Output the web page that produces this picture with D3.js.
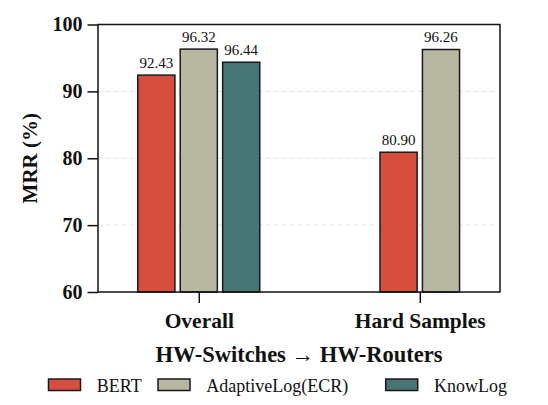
<!DOCTYPE html>
<html><head><meta charset="utf-8">
<script src="https://cdn.jsdelivr.net/npm/d3@7"></script>
<style>body{margin:0;background:#fff}svg{display:block}</style>
</head><body>
<svg id="c" width="548" height="405"></svg>
<script>
const categories = ["Overall", "Hard Samples"];
const seriesNames = ["BERT", "AdaptiveLog(ECR)", "KnowLog"];
const seriesColors = ["#D64E3E", "#B8B7A2", "#467574"];
// bar heights as drawn (null = missing)
const bertValues = [92.43, 80.90];
const adaptiveValues = [96.32, 96.26];
const knowlogValues = [94.36, null];
// value labels as printed
const bertLabels = ["92.43", "80.90"];
const adaptiveLabels = ["96.32", "96.26"];
const knowlogLabels = ["96.44", null];
const yTicks = [60, 70, 80, 90, 100];
const xTitle = "HW-Switches \u2192 HW-Routers";
const yTitle = "MRR (%)";

const series = [
  {name: seriesNames[0], color: seriesColors[0], values: bertValues, labels: bertLabels},
  {name: seriesNames[1], color: seriesColors[1], values: adaptiveValues, labels: adaptiveLabels},
  {name: seriesNames[2], color: seriesColors[2], values: knowlogValues, labels: knowlogLabels}
];

const svg = d3.select("#c");
const L = 98, R = 500, T = 24.5, B = 292;
const x = d3.scaleLinear().domain([-0.456, 1.363]).range([L, R]);
const y = d3.scaleLinear().domain([60, 100]).range([B, T]);
const font = "'Liberation Serif', 'Times New Roman', serif";
const barW = 0.168, pitch = 0.192;

// grid
svg.append("g").selectAll("line").data(yTicks.filter(d => d > 60 && d < 100)).join("line")
  .attr("x1", L).attr("x2", R).attr("y1", d => y(d)).attr("y2", d => y(d))
  .attr("stroke", "#e3e3e3").attr("stroke-width", 1).attr("stroke-dasharray", "5,3");

// bars
const bars = [];
categories.forEach((c, i) => {
  const present = series.filter(s => s.values[i] != null);
  present.forEach((s, j) => {
    const off = (j - (present.length - 1) / 2) * pitch;
    bars.push({cx: i + off, v: s.values[i], label: s.labels[i], color: s.color});
  });
});
svg.append("g").selectAll("rect").data(bars).join("rect")
  .attr("x", d => x(d.cx - barW / 2)).attr("width", d => x(d.cx + barW / 2) - x(d.cx - barW / 2))
  .attr("y", d => y(d.v)).attr("height", d => y(60) - y(d.v))
  .attr("fill", d => d.color).attr("stroke", "#1a1a1a").attr("stroke-width", 1.5);
svg.append("g").selectAll("text").data(bars).join("text")
  .attr("x", d => x(d.cx)).attr("y", d => y(d.v) - 7.5)
  .attr("text-anchor", "middle").style("font-family", font).style("font-size", "15px")
  .attr("fill", "#111").text(d => d.label);

// frame
svg.append("rect").attr("x", L).attr("y", T).attr("width", R - L).attr("height", B - T)
  .attr("fill", "none").attr("stroke", "#111").attr("stroke-width", 1.5);

// y axis
const yAxis = d3.axisLeft(y).tickValues(yTicks).tickSize(10.5).tickPadding(5);
const gy = svg.append("g").attr("transform", `translate(${L},0)`).call(yAxis);
gy.select(".domain").remove();
gy.selectAll(".tick line").attr("stroke", "#111").attr("stroke-width", 1.5);
gy.selectAll(".tick text").style("font-family", font).style("font-size", "20px")
  .style("font-weight", "bold").attr("fill", "#111");

// x axis
const xAxis = d3.axisBottom(x).tickValues([0, 1]).tickFormat(i => categories[i]).tickSize(11).tickPadding(9.5);
const gx = svg.append("g").attr("transform", `translate(0,${B})`).call(xAxis);
gx.select(".domain").remove();
gx.selectAll(".tick line").attr("stroke", "#111").attr("stroke-width", 1.5);
gx.selectAll(".tick text").style("font-family", font).style("font-size", "21.5px")
  .style("font-weight", "bold").attr("fill", "#111");

// titles
svg.append("text").attr("x", (L + R) / 2).attr("y", 362)
  .attr("text-anchor", "middle").style("font-family", font).style("font-size", "22.5px")
  .style("font-weight", "bold").attr("fill", "#111").text(xTitle);
svg.append("text").attr("transform", `translate(37,${(T + B) / 2}) rotate(-90)`)
  .attr("text-anchor", "middle").style("font-family", font).style("font-size", "21px")
  .style("font-weight", "bold").attr("fill", "#111").text(yTitle);

// legend
const legX = [48.5, 158, 385.7];
const lg = svg.append("g").selectAll("g").data(series).join("g")
  .attr("transform", (d, i) => `translate(${legX[i]},379)`);
lg.append("rect").attr("width", 32).attr("height", 11.5)
  .attr("fill", d => d.color).attr("stroke", "#1a1a1a").attr("stroke-width", 1.5);
lg.append("text").attr("x", 48.3).attr("y", 12.7)
  .style("font-family", font).style("font-size", "18px").attr("fill", "#111").text(d => d.name);
</script>
</body></html>
